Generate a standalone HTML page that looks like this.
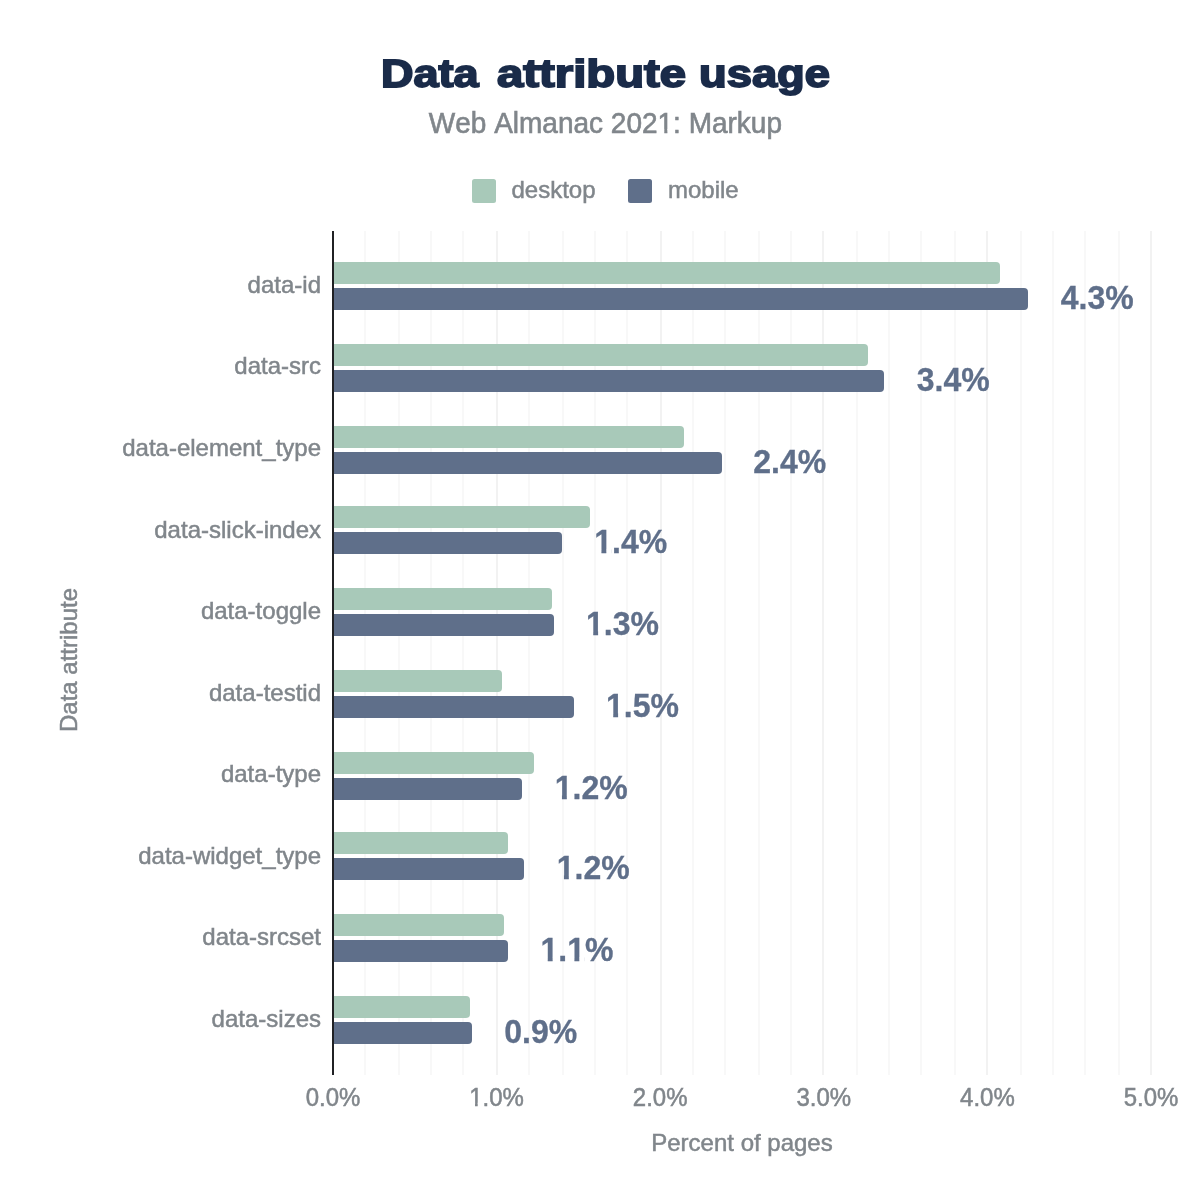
<!DOCTYPE html>
<html lang="en">
<head>
<meta charset="utf-8">
<title>Data attribute usage</title>
<style>
html,body{margin:0;padding:0;background:#fff;}
body{width:1200px;height:1198px;overflow:hidden;}
svg{display:block;}
text{font-family:"Liberation Sans",sans-serif;font-kerning:none;}
.t{fill:#80868b;font-size:24px;stroke:#80868b;stroke-width:0.5px;}
.v{fill:#5f6f8a;font-size:32px;font-weight:bold;stroke:#5f6f8a;stroke-width:0.3px;}
</style>
</head>
<body>
<svg width="1200" height="1198" viewBox="0 0 1200 1198">
<rect width="1200" height="1198" fill="#ffffff"/>
<defs>
<clipPath id="k1"><path clip-rule="evenodd" d="M-6 -40H130V14H-6Z M0 -4.2H7.25V2H0Z M12.1 -4.2H17.6V2H12.1Z"/></clipPath>
<clipPath id="k2"><path clip-rule="evenodd" d="M-6 -40H130V14H-6Z M0 -4.2H7.25V2H0Z M12.1 -4.2H17.6V2H12.1Z M26.7 -4.2H33.94V2H26.7Z M38.79 -4.2H44.3V2H38.79Z"/></clipPath>
<clipPath id="k3"><path clip-rule="evenodd" d="M-40 -30H40V12H-40Z M-27.6 -3.5H-21.56V2H-27.6Z M-18.94 -3.5H-14.4V2H-18.94Z"/></clipPath>
<clipPath id="k4"><path clip-rule="evenodd" d="M-200 -35H200V12H-200Z M52.4 -3.8H58.89V2H52.4Z M61.97 -3.8H67.2V2H61.97Z"/></clipPath>
</defs>
<text id="title" y="87.3" style="font-size:38px;font-weight:bold;fill:#1a2b49;stroke:#1a2b49;stroke-width:1.8px;stroke-linejoin:miter;stroke-miterlimit:2;"><tspan x="381.0" textLength="97.5" lengthAdjust="spacingAndGlyphs">Data</tspan> <tspan x="497.0" textLength="189.0" lengthAdjust="spacingAndGlyphs">attribute</tspan> <tspan x="699.0" textLength="131.0" lengthAdjust="spacingAndGlyphs">usage</tspan></text>
<text id="sub" clip-path="url(#k4)" transform="translate(605.4 133.2) scale(1 1.035)" text-anchor="middle" style="font-size:28px;fill:#80868b;stroke:#80868b;stroke-width:0.6px;">Web Almanac 2021: Markup</text>
<rect x="472" y="179" width="24" height="24" rx="2.5" fill="#a8c9b9"/>
<text id="lg1" class="t" x="511.5" y="198">desktop</text>
<rect x="628" y="179" width="24" height="24" rx="2.5" fill="#5f6f8a"/>
<text id="lg2" class="t" x="668" y="198">mobile</text>
<g id="grid">
<rect x="364" y="231" width="2" height="844" fill="#f8f8f8"/>
<rect x="398" y="231" width="2" height="844" fill="#f8f8f8"/>
<rect x="430" y="231" width="2" height="844" fill="#f8f8f8"/>
<rect x="462" y="231" width="2" height="844" fill="#f8f8f8"/>
<rect x="496" y="231" width="2" height="844" fill="#f2f2f2"/>
<rect x="528" y="231" width="2" height="844" fill="#f8f8f8"/>
<rect x="562" y="231" width="2" height="844" fill="#f8f8f8"/>
<rect x="594" y="231" width="2" height="844" fill="#f8f8f8"/>
<rect x="626" y="231" width="2" height="844" fill="#f8f8f8"/>
<rect x="660" y="231" width="2" height="844" fill="#f2f2f2"/>
<rect x="692" y="231" width="2" height="844" fill="#f8f8f8"/>
<rect x="724" y="231" width="2" height="844" fill="#f8f8f8"/>
<rect x="758" y="231" width="2" height="844" fill="#f8f8f8"/>
<rect x="790" y="231" width="2" height="844" fill="#f8f8f8"/>
<rect x="822" y="231" width="2" height="844" fill="#f2f2f2"/>
<rect x="856" y="231" width="2" height="844" fill="#f8f8f8"/>
<rect x="888" y="231" width="2" height="844" fill="#f8f8f8"/>
<rect x="920" y="231" width="2" height="844" fill="#f8f8f8"/>
<rect x="954" y="231" width="2" height="844" fill="#f8f8f8"/>
<rect x="986" y="231" width="2" height="844" fill="#f2f2f2"/>
<rect x="1020" y="231" width="2" height="844" fill="#f8f8f8"/>
<rect x="1052" y="231" width="2" height="844" fill="#f8f8f8"/>
<rect x="1084" y="231" width="2" height="844" fill="#f8f8f8"/>
<rect x="1118" y="231" width="2" height="844" fill="#f8f8f8"/>
<rect x="1150" y="231" width="2" height="844" fill="#f2f2f2"/>
</g>
<g id="bars">
<path fill="#a8c9b9" d="M333 262 H996 a4 4 0 0 1 4 4 v14 a4 4 0 0 1 -4 4 H333 Z"/>
<path fill="#5f6f8a" d="M333 288 H1024 a4 4 0 0 1 4 4 v14 a4 4 0 0 1 -4 4 H333 Z"/>
<path fill="#a8c9b9" d="M333 344 H864 a4 4 0 0 1 4 4 v14 a4 4 0 0 1 -4 4 H333 Z"/>
<path fill="#5f6f8a" d="M333 370 H880 a4 4 0 0 1 4 4 v14 a4 4 0 0 1 -4 4 H333 Z"/>
<path fill="#a8c9b9" d="M333 426 H680 a4 4 0 0 1 4 4 v14 a4 4 0 0 1 -4 4 H333 Z"/>
<path fill="#5f6f8a" d="M333 452 H718 a4 4 0 0 1 4 4 v14 a4 4 0 0 1 -4 4 H333 Z"/>
<path fill="#a8c9b9" d="M333 506 H586 a4 4 0 0 1 4 4 v14 a4 4 0 0 1 -4 4 H333 Z"/>
<path fill="#5f6f8a" d="M333 532 H558 a4 4 0 0 1 4 4 v14 a4 4 0 0 1 -4 4 H333 Z"/>
<path fill="#a8c9b9" d="M333 588 H548 a4 4 0 0 1 4 4 v14 a4 4 0 0 1 -4 4 H333 Z"/>
<path fill="#5f6f8a" d="M333 614 H550 a4 4 0 0 1 4 4 v14 a4 4 0 0 1 -4 4 H333 Z"/>
<path fill="#a8c9b9" d="M333 670 H498 a4 4 0 0 1 4 4 v14 a4 4 0 0 1 -4 4 H333 Z"/>
<path fill="#5f6f8a" d="M333 696 H570 a4 4 0 0 1 4 4 v14 a4 4 0 0 1 -4 4 H333 Z"/>
<path fill="#a8c9b9" d="M333 752 H530 a4 4 0 0 1 4 4 v14 a4 4 0 0 1 -4 4 H333 Z"/>
<path fill="#5f6f8a" d="M333 778 H518 a4 4 0 0 1 4 4 v14 a4 4 0 0 1 -4 4 H333 Z"/>
<path fill="#a8c9b9" d="M333 832 H504 a4 4 0 0 1 4 4 v14 a4 4 0 0 1 -4 4 H333 Z"/>
<path fill="#5f6f8a" d="M333 858 H520 a4 4 0 0 1 4 4 v14 a4 4 0 0 1 -4 4 H333 Z"/>
<path fill="#a8c9b9" d="M333 914 H500 a4 4 0 0 1 4 4 v14 a4 4 0 0 1 -4 4 H333 Z"/>
<path fill="#5f6f8a" d="M333 940 H504 a4 4 0 0 1 4 4 v14 a4 4 0 0 1 -4 4 H333 Z"/>
<path fill="#a8c9b9" d="M333 996 H466 a4 4 0 0 1 4 4 v14 a4 4 0 0 1 -4 4 H333 Z"/>
<path fill="#5f6f8a" d="M333 1022 H468 a4 4 0 0 1 4 4 v14 a4 4 0 0 1 -4 4 H333 Z"/>
</g>
<rect x="332" y="231" width="2" height="844" fill="#202124"/>
<g id="cats">
<text class="t" x="321" y="292.8" text-anchor="end">data-id</text>
<text class="t" x="321" y="374.4" text-anchor="end">data-src</text>
<text class="t" x="321" y="455.9" text-anchor="end">data-element_type</text>
<text class="t" x="321" y="537.5" text-anchor="end">data-slick-index</text>
<text class="t" x="321" y="619.0" text-anchor="end">data-toggle</text>
<text class="t" x="321" y="700.5" text-anchor="end">data-testid</text>
<text class="t" x="321" y="782.1" text-anchor="end">data-type</text>
<text class="t" x="321" y="863.7" text-anchor="end">data-widget_type</text>
<text class="t" x="321" y="945.2" text-anchor="end">data-srcset</text>
<text class="t" x="321" y="1026.8" text-anchor="end">data-sizes</text>
</g>
<g id="vals">
<text class="v" transform="translate(1060.7 309.3) scale(1 1.05)">4.3%</text>
<text class="v" transform="translate(916.7 391.3) scale(1 1.05)">3.4%</text>
<text class="v" transform="translate(753.3 473.3) scale(1 1.05)">2.4%</text>
<text class="v" clip-path="url(#k1)" transform="translate(594.2 553.3) scale(1 1.05)">1.4%</text>
<text class="v" clip-path="url(#k1)" transform="translate(586.0 635.3) scale(1 1.05)">1.3%</text>
<text class="v" clip-path="url(#k1)" transform="translate(606.0 717.3) scale(1 1.05)">1.5%</text>
<text class="v" clip-path="url(#k1)" transform="translate(554.7 799.3) scale(1 1.05)">1.2%</text>
<text class="v" clip-path="url(#k1)" transform="translate(556.7 879.3) scale(1 1.05)">1.2%</text>
<text class="v" clip-path="url(#k2)" transform="translate(540.5 961.3) scale(1 1.05)">1.1%</text>
<text class="v" transform="translate(504.3 1043.3) scale(1 1.05)">0.9%</text>
</g>
<g id="xt">
<text class="t" transform="translate(333.0 1106.3) scale(1 1.05)" text-anchor="middle">0.0%</text>
<text class="t" clip-path="url(#k3)" transform="translate(496.6 1106.3) scale(1 1.05)" text-anchor="middle">1.0%</text>
<text class="t" transform="translate(660.2 1106.3) scale(1 1.05)" text-anchor="middle">2.0%</text>
<text class="t" transform="translate(823.8 1106.3) scale(1 1.05)" text-anchor="middle">3.0%</text>
<text class="t" transform="translate(987.4 1106.3) scale(1 1.05)" text-anchor="middle">4.0%</text>
<text class="t" transform="translate(1151.0 1106.3) scale(1 1.05)" text-anchor="middle">5.0%</text>
</g>
<text id="xl" class="t" x="742" y="1151" text-anchor="middle">Percent of pages</text>
<text id="yl" class="t" transform="translate(76.8 660) rotate(-90)" text-anchor="middle">Data attribute</text>
</svg>
</body>
</html>
